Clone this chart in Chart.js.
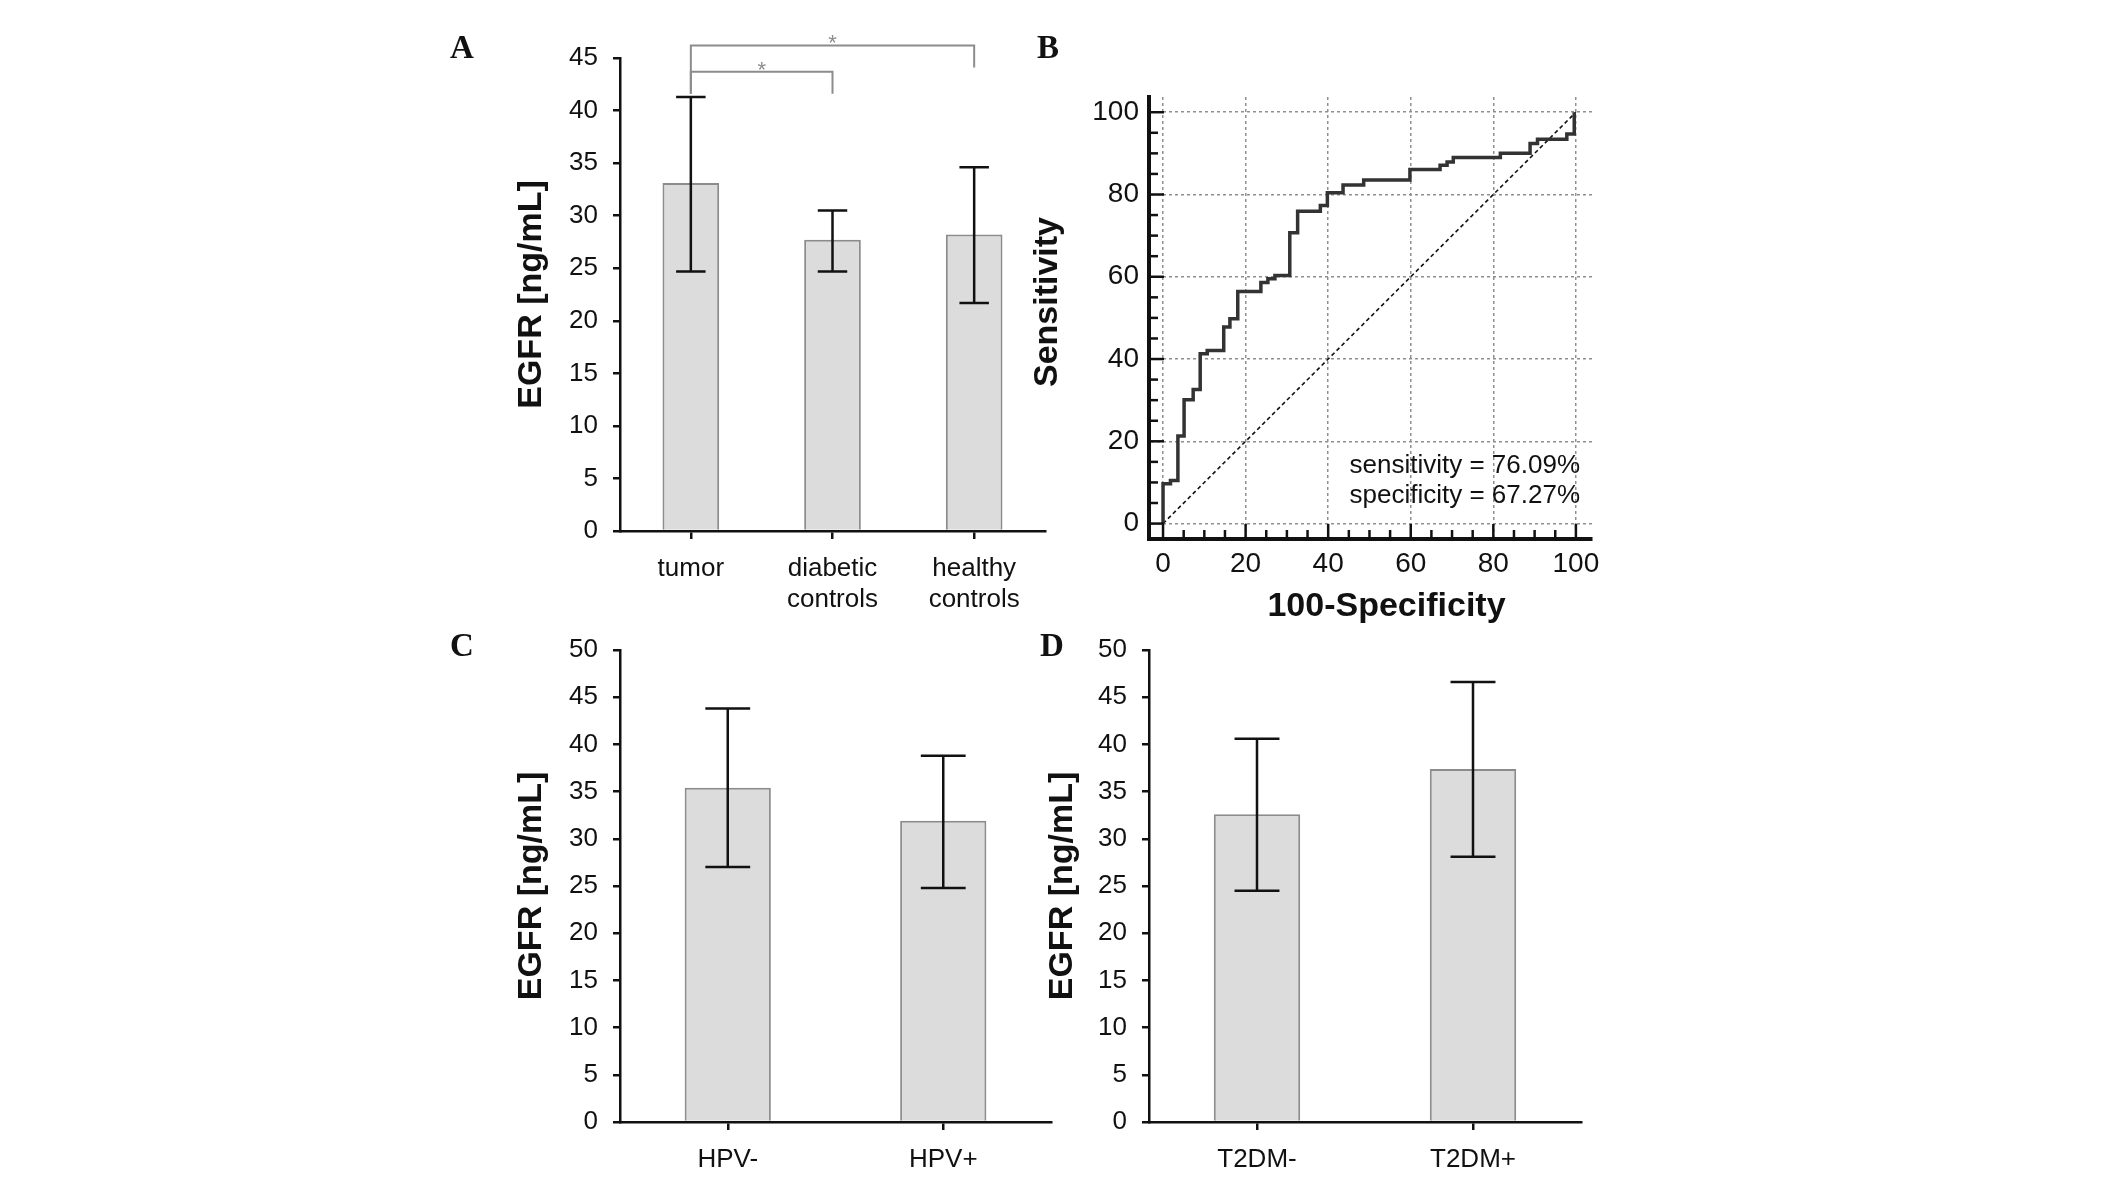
<!DOCTYPE html>
<html><head><meta charset="utf-8">
<script src="https://cdn.jsdelivr.net/npm/chart.js@4.4.1/dist/chart.umd.min.js"></script>
<style>
html,body{margin:0;padding:0;background:#fff;width:2126px;height:1187px;overflow:hidden;}
canvas{position:absolute;}
</style></head><body>
<canvas id="cA" width="640" height="640" style="left:440px;top:0px"></canvas>
<canvas id="cB" width="640" height="640" style="left:969px;top:0px"></canvas>
<canvas id="cC" width="640" height="587" style="left:440px;top:600px"></canvas>
<canvas id="cD" width="640" height="587" style="left:969px;top:600px"></canvas>
<script>
// ---- data ----
const groupsA = ['tumor', 'diabetic controls', 'healthy controls'];
const meanA = [33.1, 27.7, 28.2];
const lowA = [24.7, 24.7, 21.7];
const highA = [41.3, 30.5, 34.6];

const groupsC = ['HPV-', 'HPV+'];
const meanC = [35.4, 31.9];
const lowC = [27.0, 24.8];
const highC = [43.8, 38.8];

const groupsD = ['T2DM-', 'T2DM+'];
const meanD = [32.6, 37.4];
const lowD = [24.5, 28.1];
const highD = [40.6, 46.6];

// significance brackets for panel A (category indices and values in ng/mL)
const bracketFrom = [0, 0];
const bracketTo = [1, 2];
const bracketTop = [43.7, 46.2];
const bracketLegFrom = [41.6, 41.6];
const bracketLegTo = [41.6, 44.1];
const bracketLabel = ['*', '*'];

// ROC curve: x of each vertical step and the sensitivity reached after it
const rocStartY = 0;
const rocStepX = [0, 1.8, 3.6, 5.1, 7.3, 9.0, 10.7, 14.7, 16.2, 18.1, 23.7, 25.4, 27.1, 30.7, 32.6, 38.1, 39.8, 43.6, 48.6, 59.8, 67.1, 68.8, 70.3, 81.7, 88.9, 90.7, 97.8, 99.6];
const rocStepY = [9.7, 10.5, 21.3, 30.1, 32.6, 41.3, 42.1, 47.8, 49.8, 56.4, 58.6, 59.5, 60.3, 70.7, 75.9, 77.3, 80.4, 82.3, 83.5, 86.1, 87.1, 87.9, 89.0, 90.0, 92.4, 93.4, 94.7, 100];
const diagX = [0, 100];
const diagY = [0, 100];
const rocTicks = [0, 20, 40, 60, 80, 100];
const rocStats = ['sensitivity = 76.09%', 'specificity = 67.27%'];
const rocStatsY = [14.0, 6.7];

const F = "'Liberation Sans', Arial, sans-serif";
const INK = '#111';

// ---- plugins ----
const errorBarPlugin = {
  id: 'errorBars',
  afterDatasetsDraw(chart, args, opts) {
    const {ctx} = chart;
    const y = chart.scales.y;
    const meta = chart.getDatasetMeta(0);
    ctx.save();
    ctx.strokeStyle = INK;
    ctx.lineWidth = 2.5;
    meta.data.forEach((bar, i) => {
      const half = bar.width * 0.26;
      const yl = y.getPixelForValue(opts.low[i]);
      const yh = y.getPixelForValue(opts.high[i]);
      ctx.beginPath();
      ctx.moveTo(bar.x, yl); ctx.lineTo(bar.x, yh);
      ctx.moveTo(bar.x - half, yl); ctx.lineTo(bar.x + half, yl);
      ctx.moveTo(bar.x - half, yh); ctx.lineTo(bar.x + half, yh);
      ctx.stroke();
    });
    ctx.restore();
  }
};

const panelPlugin = {
  id: 'panel',
  afterDraw(chart, args, opts) {
    const {ctx} = chart;
    ctx.save();
    if (opts.brackets) {
      const x = chart.scales.x, y = chart.scales.y;
      const b = opts.brackets;
      ctx.strokeStyle = '#8c8c8c';
      ctx.lineWidth = 2;
      ctx.fillStyle = '#8c8c8c';
      ctx.font = '22px ' + F;
      ctx.textAlign = 'center';
      ctx.textBaseline = 'alphabetic';
      for (let i = 0; i < b.from.length; i++) {
        const x1 = x.getPixelForValue(b.from[i]);
        const x2 = x.getPixelForValue(b.to[i]);
        const yt = y.getPixelForValue(b.top[i]);
        ctx.beginPath();
        ctx.moveTo(x1, y.getPixelForValue(b.legFrom[i]));
        ctx.lineTo(x1, yt);
        ctx.lineTo(x2, yt);
        ctx.lineTo(x2, y.getPixelForValue(b.legTo[i]));
        ctx.stroke();
        ctx.fillText(b.label[i], (x1 + x2) / 2, yt + 5);
      }
    }
    ctx.fillStyle = INK;
    ctx.font = "bold 33px 'Liberation Serif', 'Times New Roman', serif";
    ctx.textAlign = 'left';
    ctx.textBaseline = 'alphabetic';
    ctx.fillText(opts.letter, opts.lx, opts.ly);
    ctx.restore();
  }
};

function barChart(id, cats, mean, lo, hi, yMax, geo, letter, brackets) {
  return new Chart(document.getElementById(id), {
    type: 'bar',
    data: {
      labels: cats,
      datasets: [{
        data: mean,
        backgroundColor: '#dcdcdc',
        borderColor: '#8c8c8c',
        borderWidth: 2,
        barPercentage: 0.4,
        categoryPercentage: 1
      }]
    },
    options: {
      responsive: false, animation: false, devicePixelRatio: 1,
      layout: {padding: {top: geo.top, right: geo.right, left: 0, bottom: 0}},
      plugins: {
        legend: {display: false}, tooltip: {enabled: false},
        errorBars: {low: lo, high: hi},
        panel: {letter: letter, lx: geo.lx, ly: geo.ly, brackets: brackets}
      },
      scales: {
        x: {
          afterFit: s => { s.height = geo.xh; },
          grid: {offset: false, drawOnChartArea: false, drawTicks: true, tickLength: 8, color: INK, lineWidth: 2.5},
          border: {color: INK, width: 2.5},
          ticks: {padding: 14, color: INK, font: {family: F, size: 26}, maxRotation: 0, autoSkip: false,
                  callback: function (v, i) { return cats[i].split(' '); }}
        },
        y: {
          min: 0, max: yMax,
          afterFit: s => { s.width = 180; },
          grid: {drawOnChartArea: false, drawTicks: true, tickLength: 7, color: INK, lineWidth: 2.5},
          border: {color: INK, width: 2.5},
          ticks: {stepSize: 5, padding: 15, color: INK, font: {family: F, size: 26}},
          title: {display: true, text: 'EGFR [ng/mL]', color: INK,
                  font: {family: F, size: 34, weight: 'bold'}, padding: {top: geo.tp, bottom: 0}}
        }
      }
    },
    plugins: [errorBarPlugin, panelPlugin]
  });
}

barChart('cA', groupsA, meanA, lowA, highA, 45,
  {top: 58, right: 35, xh: 109, tp: 71, lx: 10, ly: 58}, 'A',
  {from: bracketFrom, to: bracketTo, top: bracketTop, legFrom: bracketLegFrom, legTo: bracketLegTo, label: bracketLabel});
barChart('cC', groupsC, meanC, lowC, highC, 50,
  {top: 50, right: 29, xh: 65, tp: 71, lx: 10, ly: 56}, 'C', null);
barChart('cD', groupsD, meanD, lowD, highD, 50,
  {top: 50, right: 28, xh: 65, tp: 73.5, lx: 71, ly: 56}, 'D', null);

// ---- ROC panel ----
const rocPts = [{x: rocStepX[0], y: rocStartY}];
for (let i = 0; i < rocStepX.length; i++) {
  if (i > 0) rocPts.push({x: rocStepX[i], y: rocStepY[i - 1]});
  rocPts.push({x: rocStepX[i], y: rocStepY[i]});
}
const diagPts = diagX.map((v, i) => ({x: v, y: diagY[i]}));

const rocDecor = {
  id: 'rocDecor',
  afterDraw(chart) {
    const {ctx, chartArea: a} = chart;
    const x = chart.scales.x, y = chart.scales.y;
    ctx.save();
    ctx.strokeStyle = INK;
    ctx.lineWidth = 2.5;
    for (let v = rocTicks[0]; v <= rocTicks[rocTicks.length - 1]; v += 5) {
      const len = rocTicks.includes(v) ? 15 : 9;
      const px = x.getPixelForValue(v);
      ctx.beginPath(); ctx.moveTo(px, a.bottom); ctx.lineTo(px, a.bottom - len); ctx.stroke();
      const py = y.getPixelForValue(v);
      ctx.beginPath(); ctx.moveTo(a.left, py); ctx.lineTo(a.left + len, py); ctx.stroke();
    }
    ctx.fillStyle = INK;
    ctx.font = '26px ' + F;
    ctx.textAlign = 'right';
    ctx.textBaseline = 'middle';
    rocStats.forEach((t, i) => ctx.fillText(t, x.getPixelForValue(101), y.getPixelForValue(rocStatsY[i])));
    ctx.font = 'bold 34px ' + F;
    ctx.textAlign = 'center';
    ctx.fillText('100-Specificity', (a.left + a.right) / 2 + 16, a.bottom + 68);
    ctx.save();
    ctx.translate(a.left - 101, (a.top + a.bottom) / 2 - 16);
    ctx.rotate(-Math.PI / 2);
    ctx.fillText('Sensitivity', 0, 0);
    ctx.restore();
    ctx.font = "bold 33px 'Liberation Serif', 'Times New Roman', serif";
    ctx.textAlign = 'left';
    ctx.textBaseline = 'alphabetic';
    ctx.fillText('B', 68, 58);
    ctx.restore();
  }
};

new Chart(document.getElementById('cB'), {
  type: 'scatter',
  data: {
    datasets: [
      {data: diagPts, showLine: true, borderColor: INK, borderWidth: 1.6, borderDash: [4, 3], pointRadius: 0, order: 2},
      {data: rocPts, showLine: true, borderColor: '#333', borderWidth: 3.5, pointRadius: 0, order: 1}
    ]
  },
  options: {
    responsive: false, animation: false, devicePixelRatio: 1,
    layout: {padding: {top: 97, right: 17, left: 0, bottom: 0}},
    plugins: {legend: {display: false}, tooltip: {enabled: false}},
    scales: {
      x: {
        type: 'linear', min: -3.4, max: 103.9,
        afterBuildTicks: s => { s.ticks = rocTicks.map(v => ({value: v})); },
        afterFit: s => { s.height = 101; },
        grid: {color: '#8f8f8f', lineWidth: 1.5, drawTicks: false},
        border: {display: true, color: INK, width: 4, dash: [3, 3]},
        ticks: {padding: 8, color: INK, font: {family: F, size: 28}, maxRotation: 0, autoSkip: false}
      },
      y: {
        type: 'linear', min: -3.75, max: 103.7,
        afterBuildTicks: s => { s.ticks = rocTicks.map(v => ({value: v})); },
        afterFit: s => { s.width = 180; },
        grid: {color: '#8f8f8f', lineWidth: 1.5, drawTicks: false},
        border: {display: true, color: INK, width: 4, dash: [3, 3]},
        ticks: {padding: 10, color: INK, font: {family: F, size: 28}, autoSkip: false}
      }
    }
  },
  plugins: [rocDecor]
});
</script>
</body></html>
